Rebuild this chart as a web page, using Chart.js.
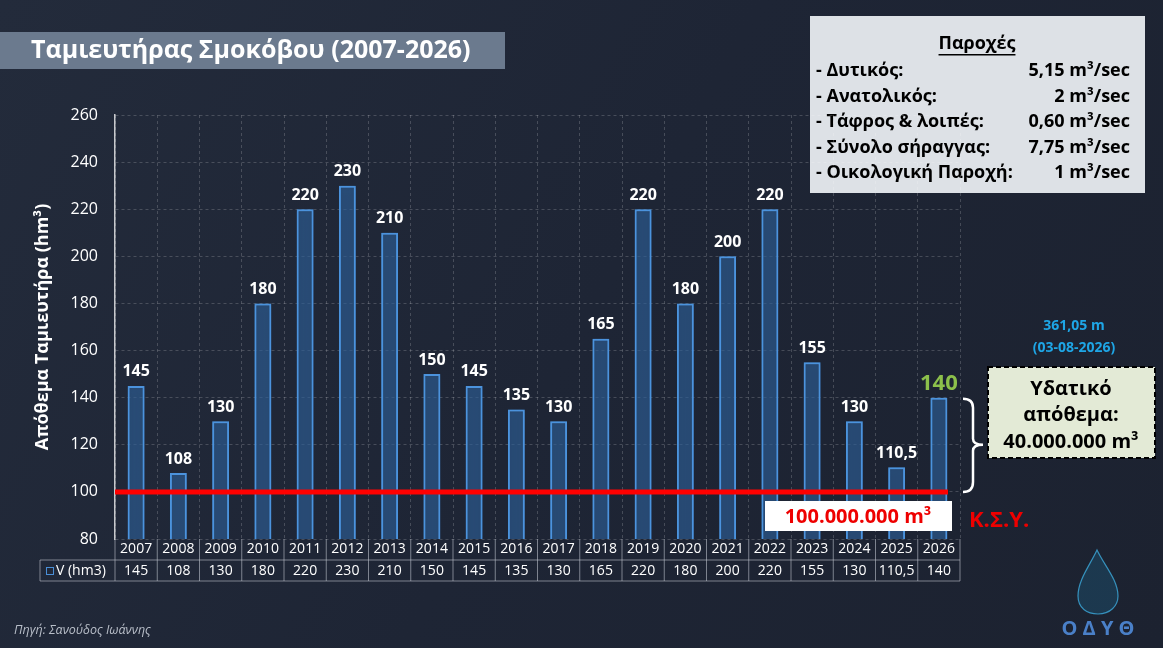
<!DOCTYPE html>
<html>
<head>
<meta charset="utf-8">
<script src="https://cdn.jsdelivr.net/npm/chart.js@4.4.1/dist/chart.umd.min.js"></script>
<style>
  html, body { margin: 0; padding: 0; background: #1e2534; }
  #wrap { position: relative; width: 1163px; height: 648px; }
</style>
</head>
<body>
<div id="wrap"><canvas id="chart" width="1163" height="648"></canvas></div>
<script>
// data
const years  = ['2007','2008','2009','2010','2011','2012','2013','2014','2015','2016',
                '2017','2018','2019','2020','2021','2022','2023','2024','2025','2026'];
const volume = [145, 108, 130, 180, 220, 230, 210, 150, 145, 135,
                130, 165, 220, 180, 200, 220, 155, 130, 110.5, 140];
const yTicks = [80, 100, 120, 140, 160, 180, 200, 220, 240, 260];
const ksyLevel = 100;

const flowNames  = ['- Δυτικός:', '- Ανατολικός:', '- Τάφρος & λοιπές:', '- Σύνολο σήραγγας:', '- Οικολογική Παροχή:'];
const flowValues = ['5,15', '2', '0,60', '7,75', '1'];

const FONT = '"Open Sans", "Noto Sans", sans-serif';

function fmt(v) {
    return String(v).replace('.', ',');
}

// background, title banner and the flow box
const backdrop = {
    id: 'backdrop',
    beforeDraw(chart) {
        const ctx = chart.ctx;
        const g = ctx.createLinearGradient(0, 0, 1163, 648);
        g.addColorStop(0, '#232b3b');
        g.addColorStop(0.5, '#1e2535');
        g.addColorStop(1, '#1c2230');
        ctx.save();
        ctx.fillStyle = g;
        ctx.fillRect(0, 0, chart.width, chart.height);

        // title banner
        ctx.fillStyle = '#6b7a8e';
        ctx.fillRect(0, 32, 505, 37);
        ctx.fillStyle = '#ffffff';
        ctx.font = 'bold 25px ' + FONT;
        ctx.textBaseline = 'middle';
        ctx.fillText('Ταμιευτήρας Σμοκόβου (2007-2026)', 31, 51);

        // flows box
        ctx.fillStyle = '#dde1e6';
        ctx.fillRect(810, 16, 335, 177);
        ctx.fillStyle = '#000000';
        ctx.font = 'bold 18px ' + FONT;
        ctx.textAlign = 'center';
        ctx.fillText('Παροχές', 977, 44);
        const tw = ctx.measureText('Παροχές').width;
        ctx.fillRect(977 - tw / 2, 54, tw, 1.5);
        flowNames.forEach((n, i) => {
            const y = 71 + i * 25.5;
            ctx.textAlign = 'left';
            ctx.fillText(n, 816, y);
            ctx.textAlign = 'right';
            ctx.fillText(flowValues[i] + ' m³/sec', 1130, y);
        });
        ctx.restore();
    }
};

// glow around the bars
const glow = {
    id: 'glow',
    beforeDatasetsDraw(chart) {
        chart.ctx.save();
        chart.ctx.shadowColor = 'rgba(70,150,230,0.8)';
        chart.ctx.shadowBlur = 6;
    },
    afterDatasetsDraw(chart) {
        chart.ctx.restore();
    }
};

// labels, red line, table, annotations
const overlay = {
    id: 'overlay',
    afterDraw(chart) {
        const ctx = chart.ctx;
        const xs = chart.scales.x;
        const ys = chart.scales.y;
        const area = chart.chartArea;
        const meta = chart.getDatasetMeta(0);
        const step = (area.right - area.left) / years.length;
        ctx.save();

        // value labels above bars
        ctx.textAlign = 'center';
        ctx.textBaseline = 'bottom';
        meta.data.forEach((bar, i) => {
            const last = i === volume.length - 1;
            ctx.fillStyle = last ? '#8cc04b' : '#ffffff';
            ctx.font = (last ? 'bold 22px ' : 'bold 16px ') + FONT;
            ctx.fillText(fmt(volume[i]), bar.x, bar.y - (last ? 3 : 6));
        });

        // red K.S.Y. line
        const y100 = ys.getPixelForValue(ksyLevel);
        ctx.strokeStyle = '#ff0000';
        ctx.lineWidth = 5;
        ctx.beginPath();
        ctx.moveTo(area.left, y100);
        ctx.lineTo(area.right - 12, y100);
        ctx.stroke();

        ctx.fillStyle = '#ffffff';
        ctx.fillRect(765, 501, 187, 30);
        ctx.fillStyle = '#ee0000';
        ctx.font = 'bold 20px ' + FONT;
        ctx.textBaseline = 'middle';
        ctx.fillText('100.000.000 m³', 858, 517);
        ctx.font = 'bold 22px ' + FONT;
        ctx.textAlign = 'left';
        ctx.fillText('Κ.Σ.Υ.', 969, 521);

        // data table under the axis
        const t0 = area.bottom, t1 = area.bottom + 21, t2 = area.bottom + 42;
        ctx.strokeStyle = 'rgba(190,195,205,0.6)';
        ctx.lineWidth = 1;
        ctx.beginPath();
        ctx.moveTo(40, t1); ctx.lineTo(area.right, t1);
        ctx.moveTo(40, t2); ctx.lineTo(area.right, t2);
        ctx.moveTo(40, t1); ctx.lineTo(40, t2);
        for (let i = 0; i <= years.length; i++) {
            const x = area.left + i * step;
            ctx.moveTo(x, t0); ctx.lineTo(x, t2);
        }
        ctx.stroke();
        ctx.fillStyle = '#ffffff';
        ctx.font = '14px ' + FONT;
        ctx.textAlign = 'center';
        years.forEach((yr, i) => {
            const x = xs.getPixelForValue(i);
            ctx.fillText(fmt(volume[i]), x, (t1 + t2) / 2 + 1);
        });
        ctx.strokeStyle = '#4a8fd8';
        ctx.strokeRect(46.5, t1 + 7.5, 7, 7);
        ctx.textAlign = 'left';
        ctx.fillText('V (hm3)', 56, (t1 + t2) / 2 + 1);

        // brace from 140 down to 100
        const yTop = ys.getPixelForValue(volume[volume.length - 1]);
        const yMid = (yTop + y100) / 2;
        const bx = 963;
        ctx.strokeStyle = '#ffffff';
        ctx.lineWidth = 2.5;
        ctx.beginPath();
        ctx.moveTo(bx, yTop + 1);
        ctx.quadraticCurveTo(bx + 10, yTop + 1, bx + 10, yTop + 10);
        ctx.lineTo(bx + 10, yMid - 6);
        ctx.quadraticCurveTo(bx + 10, yMid, bx + 20, yMid);
        ctx.quadraticCurveTo(bx + 10, yMid, bx + 10, yMid + 6);
        ctx.lineTo(bx + 10, y100 - 10);
        ctx.quadraticCurveTo(bx + 10, y100, bx, y100);
        ctx.stroke();

        // level note
        ctx.fillStyle = '#1ea6e6';
        ctx.font = 'bold 14px ' + FONT;
        ctx.textAlign = 'center';
        ctx.fillText('361,05 m', 1074, 326);
        ctx.fillText('(03-08-2026)', 1074, 348);

        // stock box
        ctx.fillStyle = '#e3ead6';
        ctx.fillRect(988, 367, 167, 91);
        ctx.strokeStyle = '#000000';
        ctx.lineWidth = 2;
        ctx.setLineDash([5, 3]);
        ctx.strokeRect(988, 367, 167, 91);
        ctx.setLineDash([]);
        ctx.fillStyle = '#000000';
        ctx.font = 'bold 20px ' + FONT;
        ctx.fillText('Υδατικό', 1071, 389);
        ctx.fillText('απόθεμα:', 1071, 415);
        ctx.fillText('40.000.000 m³', 1071, 442);

        // source
        ctx.fillStyle = '#b8bec8';
        ctx.font = 'italic 12.5px ' + FONT;
        ctx.textAlign = 'left';
        ctx.fillText('Πηγή: Σανούδος Ιωάννης', 14, 630);

        // logo drop
        ctx.strokeStyle = 'rgba(60,170,220,0.8)';
        ctx.fillStyle = 'rgba(30,110,150,0.3)';
        ctx.lineWidth = 1.2;
        ctx.beginPath();
        ctx.moveTo(1097, 550);
        ctx.bezierCurveTo(1090, 565, 1078, 580, 1078, 596);
        ctx.bezierCurveTo(1078, 608, 1087, 614, 1098, 614);
        ctx.bezierCurveTo(1110, 614, 1118, 606, 1118, 596);
        ctx.bezierCurveTo(1118, 580, 1104, 565, 1097, 550);
        ctx.closePath();
        ctx.fill();
        ctx.stroke();
        ctx.fillStyle = '#4a80c8';
        ctx.font = 'bold 20px ' + FONT;
        ctx.textAlign = 'center';
        ctx.fillText('Ο Δ Υ Θ', 1098, 629);
        ctx.restore();
    }
};

new Chart(document.getElementById('chart'), {
    type: 'bar',
    data: {
        labels: years,
        datasets: [{
            label: 'V (hm3)',
            data: volume,
            backgroundColor: 'rgba(35,70,115,0.45)',
            borderColor: '#4d93dc',
            borderWidth: 2,
            barPercentage: 0.4,
            categoryPercentage: 1.0,
            borderSkipped: 'bottom'
        }]
    },
    options: {
        responsive: false,
        animation: false,
        devicePixelRatio: 1,
        layout: { padding: { left: 32, top: 115, right: 203, bottom: 88 } },
        plugins: {
            legend: { display: false },
            tooltip: { enabled: false }
        },
        scales: {
            x: {
                afterFit(scale) { scale.height = 21; },
                grid: {
                    color: 'rgba(255,255,255,0.18)',
                    offset: true,
                    drawTicks: false
                },
                border: { display: false, dash: [3, 3] },
                ticks: {
                    color: '#ffffff',
                    font: { family: FONT, size: 14 },
                    padding: 2
                }
            },
            y: {
                min: 80,
                max: 260,
                afterFit(scale) { scale.width = 83; },
                afterBuildTicks(scale) { scale.ticks = yTicks.map(v => ({ value: v })); },
                grid: {
                    color: 'rgba(255,255,255,0.18)',
                    drawTicks: false
                },
                border: { color: 'rgba(255,255,255,0.75)', width: 1.5, dash: [3, 3] },
                ticks: {
                    color: '#ffffff',
                    font: { family: FONT, size: 16 },
                    padding: 17
                },
                title: {
                    display: true,
                    text: 'Απόθεμα Ταμιευτήρα (hm³)',
                    color: '#ffffff',
                    font: { family: FONT, size: 18, weight: 'bold' },
                    padding: { top: 0, bottom: 0 }
                }
            }
        }
    },
    plugins: [backdrop, glow, overlay]
});
</script>
</body>
</html>
